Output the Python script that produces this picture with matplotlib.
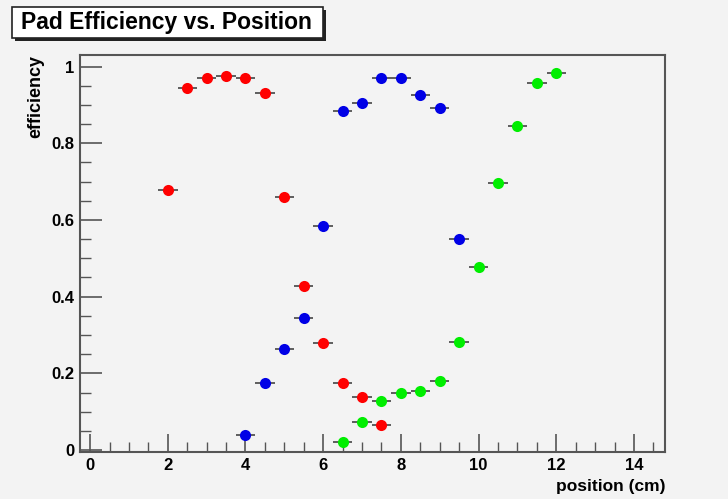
import matplotlib
matplotlib.use("Agg")
import matplotlib.pyplot as plt
from matplotlib.patches import Rectangle
from matplotlib.ticker import MultipleLocator

plt.rcParams['font.family'] = ['Liberation Sans', 'DejaVu Sans']

red_x = [2, 2.5, 3, 3.5, 4, 4.5, 5, 5.5, 6, 6.5, 7, 7.5]
red_y = [0.679, 0.945, 0.971, 0.974, 0.969, 0.932, 0.661, 0.428, 0.279, 0.175, 0.138, 0.065]
blue_x = [4, 4.5, 5, 5.5, 6, 6.5, 7, 7.5, 8, 8.5, 9, 9.5]
blue_y = [0.039, 0.175, 0.264, 0.345, 0.585, 0.885, 0.906, 0.969, 0.969, 0.927, 0.893, 0.551]
green_x = [6.5, 7, 7.5, 8, 8.5, 9, 9.5, 10, 10.5, 11, 11.5, 12]
green_y = [0.021, 0.073, 0.128, 0.149, 0.154, 0.180, 0.282, 0.478, 0.697, 0.846, 0.958, 0.982]
x_err = 0.25

bg = '#f3f3f3'
fig = plt.figure(figsize=(7.28, 4.99), dpi=100, facecolor=bg)
ax = fig.add_axes([80/728, 1-452/499, (665-80)/728, (452-55)/499])
ax.set_facecolor(bg)

for xs, ys, c in [(red_x, red_y, '#ff0000'), (blue_x, blue_y, '#0000e6'), (green_x, green_y, '#00ee00')]:
    ax.errorbar(xs, ys, xerr=x_err, fmt='o', color=c, ecolor='#444444', elinewidth=1.2,
                markersize=8, markeredgewidth=0, capsize=0, zorder=3)

ax.set_xlim(-0.26, 14.8)
ax.set_ylim(-0.005, 1.03)
ax.xaxis.set_major_locator(MultipleLocator(2))
ax.xaxis.set_minor_locator(MultipleLocator(0.5))
ax.yaxis.set_major_locator(MultipleLocator(0.2))
ax.yaxis.set_minor_locator(MultipleLocator(0.05))
ax.set_yticks([0, 0.2, 0.4, 0.6, 0.8, 1.0])
ax.set_yticklabels(['0', '0.2', '0.4', '0.6', '0.8', '1'])
ax.tick_params(which='major', direction='in', length=13, width=1.2, color='#555555',
               labelsize=12, pad=4)
ax.tick_params(which='minor', direction='in', length=7, width=1.0, color='#555555')
ax.tick_params(axis='y', which='major', length=16)
ax.tick_params(axis='y', which='minor', length=8)
for lab in ax.get_xticklabels() + ax.get_yticklabels():
    lab.set_fontweight('bold')
for s in ax.spines.values():
    s.set_color('#555555')
    s.set_linewidth(1.5)

fig.text(665/728, 1-487/499, 'position (cm)', ha='right', va='center', fontsize=12.5, fontweight='bold')
fig.text(36/728, 1-55/499, 'efficiency', ha='center', va='top', rotation=90, fontsize=13, fontweight='bold')

# Title box with shadow
fig.patches.append(Rectangle((15/728, 1-41/499), 311/728, 31/499, transform=fig.transFigure,
                             facecolor='#222222', edgecolor='none', zorder=1))
fig.patches.append(Rectangle((12/728, 1-38/499), 311/728, 31/499, transform=fig.transFigure,
                             facecolor='white', edgecolor='#222222', linewidth=1.2, zorder=2))
fig.text(166/728, 1-23/499, 'Pad Efficiency vs. Position', ha='center', va='center',
         fontsize=16.5, fontweight='bold', zorder=3)

fig.savefig('out.png', dpi=100, facecolor=bg)
